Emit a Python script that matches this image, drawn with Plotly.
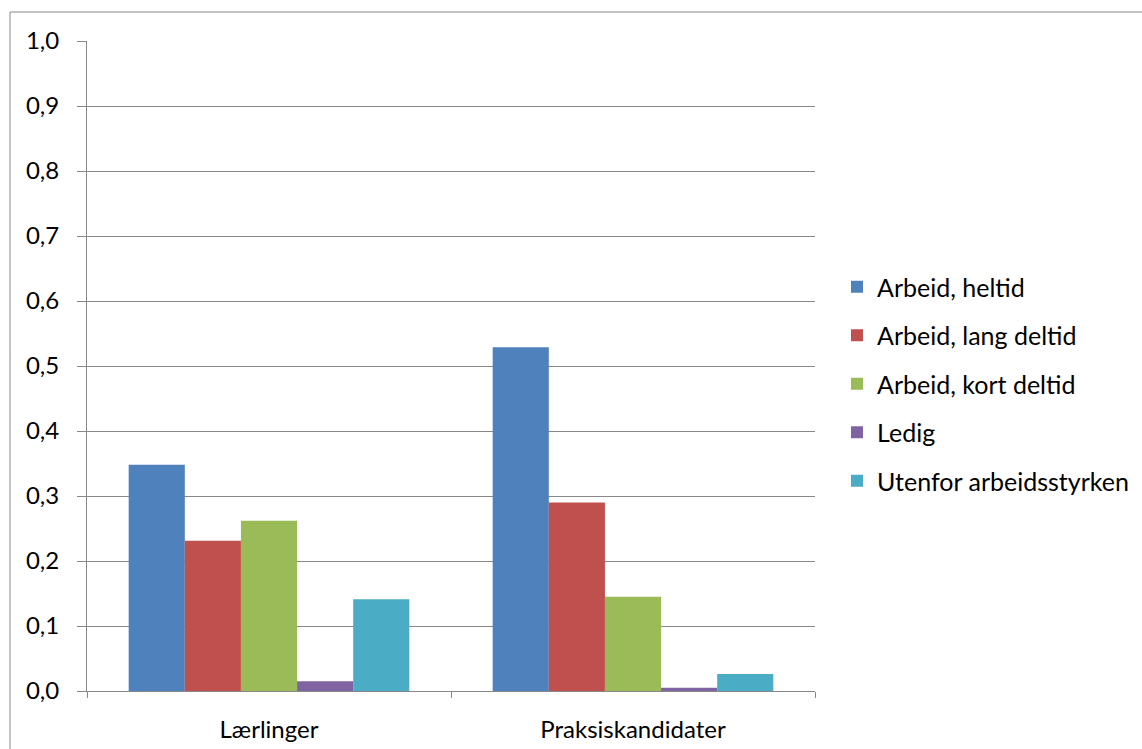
import plotly.graph_objects as go

categories = ["Lærlinger", "Praksiskandidater"]
series_names = ["Arbeid, heltid", "Arbeid, lang deltid", "Arbeid, kort deltid", "Ledig", "Utenfor arbeidsstyrken"]
heltid = [0.348, 0.529]
lang_deltid = [0.231, 0.290]
kort_deltid = [0.262, 0.145]
ledig = [0.015, 0.005]
utenfor = [0.141, 0.026]
y_ticks = [0.0, 0.1, 0.2, 0.3, 0.4, 0.5, 0.6, 0.7, 0.8, 0.9, 1.0]

colors = ["#4F81BD", "#C0504D", "#9BBB59", "#8064A2", "#4BACC6"]
values = [heltid, lang_deltid, kort_deltid, ledig, utenfor]

FONT = "Lato"
GRID = "#888888"

fig = go.Figure()
for i, (name, vals) in enumerate(zip(series_names, values)):
    fig.add_trace(go.Bar(
        x=categories, y=vals, name=name,
        marker=dict(color=colors[i], line=dict(width=0)),
        legendgroup=f"g{i}",
    ))

W, H = 1142, 749
L, R, T, B = 87, 327, 41, 58
pw, ph = W - L - R, H - T - B

def px_x(x):
    return (x - L) / pw

def px_y(y):
    return (H - B - y) / ph

fig.update_layout(
    width=W, height=H,
    margin=dict(l=L, r=R, t=T, b=B, pad=0, autoexpand=False),
    paper_bgcolor="white", plot_bgcolor="white",
    separators=", ",
    barmode="group", bargap=0.229, bargroupgap=0,
    font=dict(family=FONT, size=24, color="#000000"),
    showlegend=True,
    legend=dict(
        x=px_x(837), xanchor="left",
        y=px_y(264), yanchor="top",
        traceorder="grouped", tracegroupgap=13,
        font=dict(family=FONT, size=25, color="#000000"),
        bgcolor="rgba(0,0,0,0)", borderwidth=0,
    ),
    xaxis=dict(
        type="category", tickson="boundaries",
        ticks="outside", ticklen=6, tickcolor=GRID, tickwidth=1,
        showline=True, linecolor=GRID, linewidth=1,
        showgrid=False, zeroline=False, automargin=False,
        ticklabelstandoff=17,
        tickfont=dict(family=FONT, size=24, color="#000000"),
    ),
    yaxis=dict(
        range=[0, 1], tickmode="array", tickvals=y_ticks,
        tickformat=".1f",
        ticks="outside", ticklen=9, tickcolor=GRID, tickwidth=1,
        showline=True, linecolor=GRID, linewidth=1,
        showgrid=True, gridcolor=GRID, gridwidth=1,
        zeroline=False, automargin=False,
        ticklabelstandoff=13,
        tickfont=dict(family=FONT, size=24, color="#000000"),
    ),
    shapes=[dict(
        type="rect", xref="paper", yref="paper",
        x0=px_x(10), x1=px_x(1160), y0=px_y(12), y1=px_y(780),
        line=dict(color=GRID, width=1), fillcolor="rgba(0,0,0,0)",
        layer="below",
    )],
)

fig.write_html("out.html")
